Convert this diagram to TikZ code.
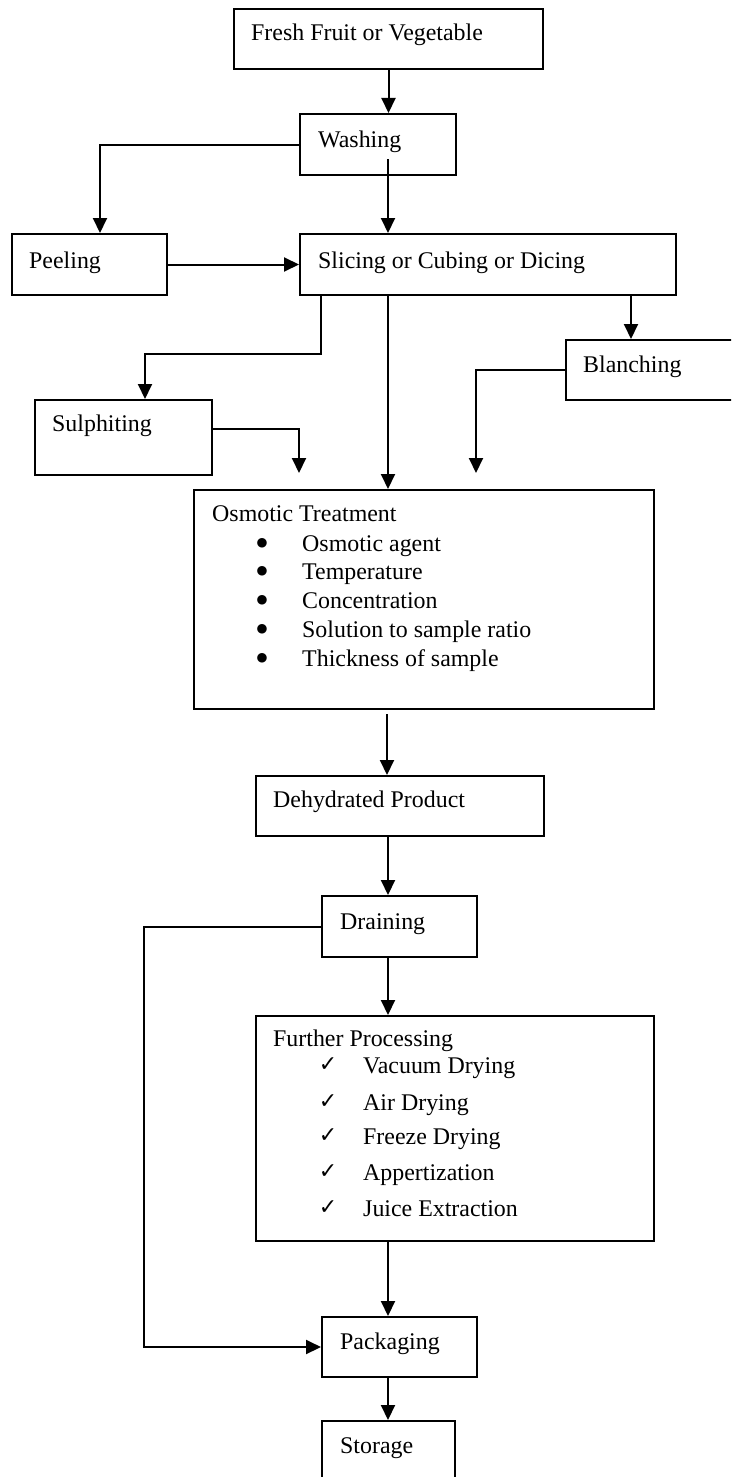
\documentclass[tikz,border=0pt]{standalone}
\usepackage{fontspec}
\setmainfont{Liberation Serif}
\newfontfamily\symfont{DejaVu Sans}
\usetikzlibrary{arrows.meta}
\begin{document}
\begin{tikzpicture}[x=1pt,y=-1pt,
  box/.style={draw, line width=2pt, anchor=north west, inner sep=0pt},
  lbl/.style={anchor=base west, inner sep=0pt, font=\fontsize{23.9pt}{28pt}\selectfont},
  bul/.style={anchor=base, inner sep=0pt, text height=10pt, text depth=0pt, font=\symfont\fontsize{12.5pt}{12.5pt}\selectfont},
  chk/.style={anchor=base, inner sep=0pt, text height=14pt, text depth=0pt, font=\symfont\fontsize{22pt}{22pt}\selectfont},
  arr/.style={line width=2pt, -{Triangle[length=15pt,width=14pt]}}]
\clip (0,0) rectangle (731,1477);
\fill[white] (0,0) rectangle (731,1477);

% boxes
\node[box, minimum width=309pt, minimum height=60pt] (fresh) at (233,8) {};
\node[box, minimum width=156pt, minimum height=61pt] (wash) at (299,113) {};
\node[box, minimum width=155pt, minimum height=61pt] (peel) at (11,233) {};
\node[box, minimum width=376pt, minimum height=61pt] (slice) at (299,233) {};
\node[box, minimum width=177pt, minimum height=75pt] (sulph) at (34,399) {};
\node[box, minimum width=250pt, minimum height=60pt] (blanch) at (565,339) {};
\node[box, minimum width=460pt, minimum height=219pt] (osm) at (193,489) {};
\node[box, minimum width=288pt, minimum height=60pt] (dehyd) at (255,775) {};
\node[box, minimum width=155pt, minimum height=61pt] (drain) at (321,895) {};
\node[box, minimum width=398pt, minimum height=225pt] (further) at (255,1015) {};
\node[box, minimum width=155pt, minimum height=60pt] (pack) at (321,1316) {};
\node[box, minimum width=133pt, minimum height=100pt] (store) at (321,1420) {};

% labels
\node[lbl] (tfresh) at (251,41) {Fresh Fruit or Vegetable};
\node[lbl] (twash) at (318,147) {Washing};
\node[lbl] (tpeel) at (29,268) {Peeling};
\node[lbl] (tslice) at (318,268) {Slicing or Cubing or Dicing};
\node[lbl] (tsulph) at (52,431) {Sulphiting};
\node[lbl] (tblanch) at (583,372) {Blanching};
\node[lbl] (tosm) at (212,521) {Osmotic Treatment};
\node[bul] (b1) at (262,546.5) {●};
\node[lbl] (i1) at (302,551) {Osmotic agent};
\node[bul] (b2) at (262,574.5) {●};
\node[lbl] (i2) at (302,579) {Temperature};
\node[bul] (b3) at (262,603.5) {●};
\node[lbl] (i3) at (302,608) {Concentration};
\node[bul] (b4) at (262,632.5) {●};
\node[lbl] (i4) at (302,637) {Solution to sample ratio};
\node[bul] (b5) at (262,661.5) {●};
\node[lbl] (i5) at (302,666) {Thickness of sample};
\node[lbl] (tdehyd) at (273,807) {Dehydrated Product};
\node[lbl] (tdrain) at (340,929) {Draining};
\node[lbl] (tfurther) at (273,1046) {Further Processing};
\node[chk] (c1) at (328,1071) {✓};
\node[lbl] (j1) at (363,1073) {Vacuum Drying};
\node[chk] (c2) at (328,1108) {✓};
\node[lbl] (j2) at (363,1110) {Air Drying};
\node[chk] (c3) at (328,1142) {✓};
\node[lbl] (j3) at (363,1144) {Freeze Drying};
\node[chk] (c4) at (328,1178) {✓};
\node[lbl] (j4) at (363,1180) {Appertization};
\node[chk] (c5) at (328,1214) {✓};
\node[lbl] (j5) at (363,1216) {Juice Extraction};
\node[lbl] (tpack) at (340,1349) {Packaging};
\node[lbl] (tstore) at (340,1453) {Storage};

% helper coordinates
\coordinate (pj) at (100,0);
\coordinate (ws) at (388,159);
\coordinate (s1) at (321,354);
\coordinate (s2) at (145,354);
\coordinate (s3) at (211,429);
\coordinate (s4) at (299,473);
\coordinate (b0) at (631,0);
\coordinate (bl) at (476,473);
\coordinate (od) at (387,714);
\coordinate (col) at (388,0);
\coordinate (lf) at (144,0);

% connectors
\draw[arr] (fresh.south) -- (fresh.south |- wash.north);
\draw[arr] (wash.west) -| (peel.north -| pj);
\draw[arr] (ws) -- (ws |- slice.north);
\draw[arr] (peel.east) -- (slice.west);
\draw[arr] (slice.south -| s1) -- (s1) -- (s2) -- (s2 |- sulph.north);
\draw[arr] (sulph.east |- s3) -- (s3 -| s4) -- (s4);
\draw[arr] (slice.south -| ws) -- (osm.north -| ws);
\draw[arr] (slice.south -| b0) -- (blanch.north -| b0);
\draw[arr] (blanch.west) -| (bl);
\draw[arr] (od) -- (od |- dehyd.north);
\draw[arr] (dehyd.south -| col) -- (drain.north -| col);
\draw[arr] (drain.south -| col) -- (further.north -| col);
\draw[arr] (drain.west) -| (lf |- pack.west) -- (pack.west);
\draw[arr] (further.south -| col) -- (pack.north -| col);
\draw[arr] (pack.south -| col) -- (store.north -| col);
\end{tikzpicture}
\end{document}
